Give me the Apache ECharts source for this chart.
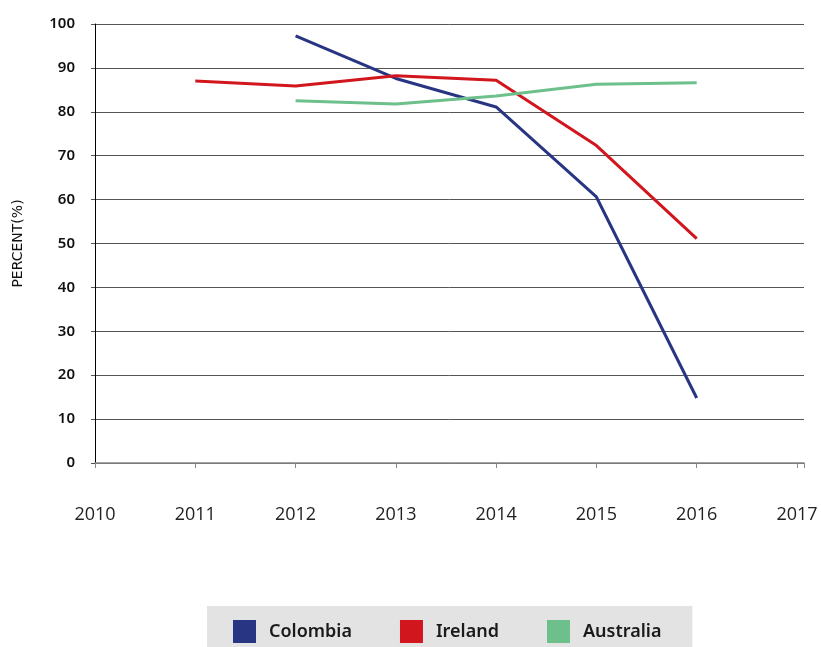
<!DOCTYPE html>
<html>
<head>
<meta charset="utf-8">
<script src="https://cdn.jsdelivr.net/npm/echarts@6/dist/echarts.min.js"></script>
<style>
html,body{margin:0;padding:0;background:#fff;}
#chart{width:821px;height:647px;}
</style>
</head>
<body>
<div id="chart"></div>
<script>
const years = [2011, 2012, 2013, 2014, 2015, 2016];
const colombia = [null, 97.3, 87.6, 81.1, 60.6, 14.8];
const ireland = [87.0, 85.9, 88.2, 87.2, 72.3, 51.1];
const australia = [null, 82.5, 81.8, 83.6, 86.3, 86.6];
const seriesNames = ['Colombia', 'Ireland', 'Australia'];
const seriesColors = ['#283583', '#d2161e', '#6dbf8b'];
const yAxisTitle = 'PERCENT(%)';

const valuesList = [colombia, ireland, australia];
const chart = echarts.init(document.getElementById('chart'), null, {renderer: 'canvas'});
chart.setOption({
  animation: false,
  backgroundColor: '#ffffff',
  grid: {left: 95, right: 17, top: 24, bottom: 184, containLabel: false, outerBoundsMode: 'none'},
  legend: {
    data: seriesNames,
    left: 207,
    top: 606,
    padding: [14, 31, 10, 26],
    backgroundColor: '#e3e3e3',
    itemWidth: 23,
    itemHeight: 23,
    itemGap: 48,
    icon: 'rect',
    textStyle: {fontFamily: 'Noto Sans', fontSize: 18, fontWeight: 600, color: '#1a1a1a', padding: [0, 0, 0, 8]}
  },
  xAxis: {
    type: 'value',
    min: 2010,
    max: 2017.07,
    interval: 1,
    axisLine: {show: true, lineStyle: {color: '#888', width: 1.5}},
    axisTick: {show: true, inside: false, length: 5, lineStyle: {color: '#888'}},
    splitLine: {show: false},
    axisLabel: {
      margin: 43, fontFamily: 'Open Sans', fontSize: 18, color: '#222',
      showMaxLabel: true,
      formatter: v => (Math.abs(v - Math.round(v)) < 1e-6 ? String(Math.round(v)) : '')
    }
  },
  yAxis: {
    type: 'value',
    min: 0,
    max: 100,
    interval: 10,
    name: yAxisTitle,
    nameLocation: 'middle',
    nameGap: 70,
    nameRotate: 90,
    nameTextStyle: {fontFamily: 'DejaVu Sans', fontSize: 14, fontWeight: 500, color: '#111'},
    axisLine: {show: true, lineStyle: {color: '#000', width: 1}},
    axisTick: {show: true, length: 4, lineStyle: {color: '#555'}},
    splitLine: {show: true, lineStyle: {color: '#555', width: 1}},
    axisLabel: {margin: 20, fontFamily: 'Noto Sans', fontSize: 15, fontWeight: 600, color: '#111'}
  },
  series: seriesNames.map((name, i) => ({
    name: name,
    type: 'line',
    data: years.map((y, j) => [y, valuesList[i][j]]),
    showSymbol: false,
    connectNulls: false,
    color: seriesColors[i],
    lineStyle: {width: 3, color: seriesColors[i]},
    itemStyle: {color: seriesColors[i]}
  }))
});
</script>
</body>
</html>
